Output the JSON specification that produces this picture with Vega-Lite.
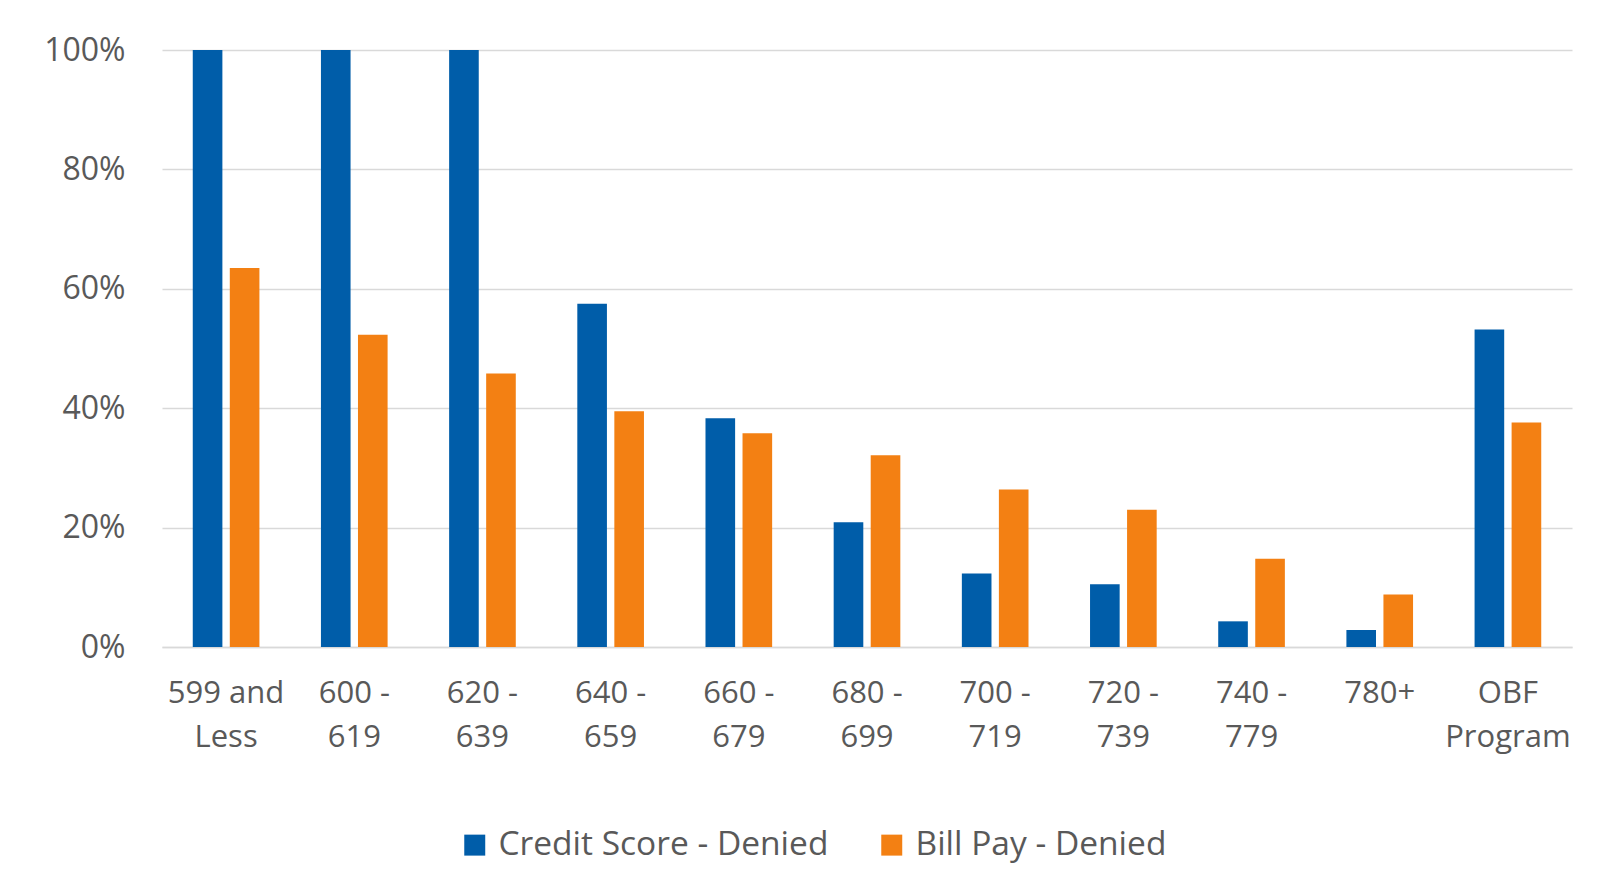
{
  "$schema": "https://vega.github.io/schema/vega-lite/v6.json",
  "width": 1410,
  "height": 597,
  "autosize": {"type": "none"},
  "padding": {"left": 162, "top": 50, "right": 32, "bottom": 245},
  "background": "white",
  "config": {
    "font": "Open Sans",
    "view": {"stroke": null}
  },
  "data": {
    "values": [
      {"band": "599 and\nLess", "series": "Credit Score - Denied", "value": 1.0},
      {"band": "599 and\nLess", "series": "Bill Pay - Denied", "value": 0.635},
      {"band": "600 -\n619", "series": "Credit Score - Denied", "value": 1.0},
      {"band": "600 -\n619", "series": "Bill Pay - Denied", "value": 0.523},
      {"band": "620 -\n639", "series": "Credit Score - Denied", "value": 1.0},
      {"band": "620 -\n639", "series": "Bill Pay - Denied", "value": 0.458},
      {"band": "640 -\n659", "series": "Credit Score - Denied", "value": 0.575},
      {"band": "640 -\n659", "series": "Bill Pay - Denied", "value": 0.395},
      {"band": "660 -\n679", "series": "Credit Score - Denied", "value": 0.383},
      {"band": "660 -\n679", "series": "Bill Pay - Denied", "value": 0.358},
      {"band": "680 -\n699", "series": "Credit Score - Denied", "value": 0.209},
      {"band": "680 -\n699", "series": "Bill Pay - Denied", "value": 0.321},
      {"band": "700 -\n719", "series": "Credit Score - Denied", "value": 0.123},
      {"band": "700 -\n719", "series": "Bill Pay - Denied", "value": 0.264},
      {"band": "720 -\n739", "series": "Credit Score - Denied", "value": 0.105},
      {"band": "720 -\n739", "series": "Bill Pay - Denied", "value": 0.23},
      {"band": "740 -\n779", "series": "Credit Score - Denied", "value": 0.043},
      {"band": "740 -\n779", "series": "Bill Pay - Denied", "value": 0.148},
      {"band": "780+", "series": "Credit Score - Denied", "value": 0.0285},
      {"band": "780+", "series": "Bill Pay - Denied", "value": 0.088},
      {"band": "OBF\nProgram", "series": "Credit Score - Denied", "value": 0.532},
      {"band": "OBF\nProgram", "series": "Bill Pay - Denied", "value": 0.376}
    ]
  },
  "mark": {"type": "bar"},
  "encoding": {
    "x": {
      "field": "band",
      "type": "nominal",
      "sort": null,
      "scale": {"paddingInner": 0.48, "paddingOuter": 0.24},
      "axis": {
        "title": null,
        "labelAngle": 0,
        "labelExpr": "split(datum.label, '\\n')",
        "labelFontSize": 31,
        "labelColor": "#595959",
        "labelLineHeight": 44,
        "labelPadding": 31,
        "ticks": false,
        "domain": true,
        "domainColor": "#d9d9d9",
        "domainWidth": 1.5,
        "labelBaseline": "top",
        "labelLimit": 0
      }
    },
    "xOffset": {
      "field": "series",
      "type": "nominal",
      "sort": ["Credit Score - Denied", "Bill Pay - Denied"],
      "scale": {"paddingInner": 0.2, "paddingOuter": 0}
    },
    "y": {
      "field": "value",
      "type": "quantitative",
      "scale": {"domain": [0, 1], "nice": false},
      "axis": {
        "title": null,
        "format": ".0%",
        "values": [0, 0.2, 0.4, 0.6, 0.8, 1.0],
        "labelFontSize": 32,
        "labelColor": "#595959",
        "labelPadding": 37,
        "ticks": false,
        "domain": false,
        "gridColor": "#d9d9d9",
        "gridWidth": 1.5
      }
    },
    "color": {
      "field": "series",
      "type": "nominal",
      "sort": ["Credit Score - Denied", "Bill Pay - Denied"],
      "scale": {
        "domain": ["Credit Score - Denied", "Bill Pay - Denied"],
        "range": ["#005DA9", "#F38013"]
      },
      "legend": {
        "title": null,
        "orient": "none",
        "legendX": 296,
        "legendY": 778,
        "direction": "horizontal",
        "symbolType": "square",
        "symbolSize": 440,
        "symbolStrokeWidth": 0,
        "labelFontSize": 33.5,
        "labelColor": "#595959",
        "labelLimit": 0,
        "columnPadding": 46,
        "labelOffset": 7
      }
    }
  }
}
